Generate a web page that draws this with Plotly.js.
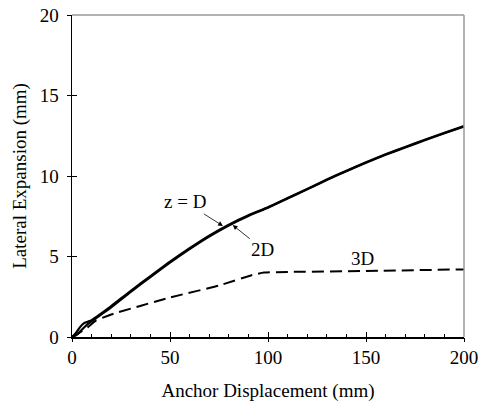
<!DOCTYPE html>
<html>
<head>
<meta charset="utf-8">
<script src="https://cdn.plot.ly/plotly-3.0.1.min.js"></script>
<style>
  html, body { margin: 0; padding: 0; background: #fff; }
  #chart { width: 480px; height: 405px; }
</style>
</head>
<body>
<div id="chart"></div>
<script>
// Lateral expansion vs anchor displacement at three depths
const dispZD = [0, 2, 4, 6, 8, 10, 13, 20, 30, 40, 50, 60, 70, 80, 90, 100, 110, 120, 130, 140, 150, 160, 170, 180, 190, 200];
const expZD  = [0, 0.25, 0.6, 0.85, 0.95, 1.05, 1.3, 1.92, 2.87, 3.78, 4.68, 5.52, 6.3, 6.98, 7.56, 8.06, 8.63, 9.2, 9.78, 10.33, 10.86, 11.35, 11.8, 12.25, 12.68, 13.1];

const disp2D = [0, 2, 5, 8, 12, 20, 30, 40, 50, 60, 70, 80, 90, 100, 110, 120, 130, 140, 150, 160, 170, 180, 190, 200];
const exp2D  = [0, 0.1, 0.45, 0.8, 1.15, 1.84, 2.8, 3.72, 4.62, 5.46, 6.24, 6.93, 7.52, 8.03, 8.6, 9.17, 9.75, 10.3, 10.83, 11.32, 11.77, 12.22, 12.65, 13.07];

const disp3D = [0, 3, 8, 12, 20, 50, 75, 92, 98, 110, 150, 200];
const exp3D  = [0, 0.2, 0.6, 1.0, 1.4, 2.45, 3.2, 3.85, 4.0, 4.04, 4.1, 4.2];

const xTicks = [0, 50, 100, 150, 200];
const yTicks = [0, 5, 10, 15, 20];

const serif = 'Liberation Serif, Times New Roman, serif';

const traces = [
  { x: dispZD, y: expZD, mode: 'lines', line: { color: '#000', width: 2.2, shape: 'spline', smoothing: 0.6 }, name: 'z = D', xaxis: 'x', yaxis: 'y' },
  { x: disp2D, y: exp2D, mode: 'lines', line: { color: '#000', width: 2.2, shape: 'spline', smoothing: 0.6 }, name: '2D', xaxis: 'x', yaxis: 'y' },
  { x: disp3D, y: exp3D, mode: 'lines', line: { color: '#000', width: 2, dash: '12px,6px', shape: 'spline', smoothing: 0.5 }, name: '3D', xaxis: 'x', yaxis: 'y' }
];

const layout = {
  width: 480,
  height: 405,
  margin: { l: 72, r: 16, t: 15, b: 68 },
  paper_bgcolor: '#fff',
  plot_bgcolor: '#fff',
  showlegend: false,
  font: { family: serif, size: 19, color: '#000' },
  xaxis: {
    range: [0, 200],
    tickvals: xTicks,
    ticktext: xTicks.map(String),
    ticks: 'inside',
    ticklen: 5,
    tickcolor: '#000',
    minor: { dtick: 10, ticks: 'inside', ticklen: 3, tickcolor: '#000' },
    showline: true,
    linecolor: '#000',
    linewidth: 1.5,
    showgrid: false,
    zeroline: false,
    ticklabelstandoff: 3,
    tickfont: { family: serif, size: 19 },
    title: { text: 'Anchor Displacement (mm)', font: { family: serif, size: 19 }, standoff: 16 }
  },
  xaxis2: {
    overlaying: 'x',
    matches: 'x',
    range: [0, 200],
    tickvals: xTicks,
    ticks: 'outside',
    ticklen: 4,
    tickcolor: '#000',
    showticklabels: false,
    showline: false,
    showgrid: false,
    zeroline: false
  },
  yaxis: {
    range: [0, 20],
    tickvals: yTicks,
    ticktext: yTicks.map(String),
    ticks: 'outside',
    ticklen: 4,
    tickcolor: '#000',
    showline: true,
    linecolor: '#000',
    linewidth: 1.5,
    showgrid: false,
    zeroline: false,
    ticklabelstandoff: 4,
    tickfont: { family: serif, size: 19 },
    title: { text: 'Lateral Expansion (mm)', font: { family: serif, size: 19 }, standoff: 8 }
  },
  yaxis2: {
    overlaying: 'y',
    matches: 'y',
    range: [0, 20],
    tickvals: yTicks,
    ticks: 'inside',
    ticklen: 5,
    tickcolor: '#000',
    showticklabels: false,
    showline: false,
    showgrid: false,
    zeroline: false
  },
  shapes: [
    { type: 'line', xref: 'paper', yref: 'paper', x0: 0, x1: 1, y0: 1, y1: 1, line: { color: '#999', width: 1.5 } },
    { type: 'line', xref: 'paper', yref: 'paper', x0: 1, x1: 1, y0: 0, y1: 1, line: { color: '#999', width: 1.5 } }
  ],
  annotations: [
    { x: 77, y: 6.9, xref: 'x', yref: 'y', text: 'z = D', showarrow: true, arrowhead: 2, arrowsize: 1.2, arrowwidth: 0.8, arrowcolor: '#000', ax: -38, ay: -24, font: { family: serif, size: 19 } },
    { x: 82, y: 6.95, xref: 'x', yref: 'y', text: '2D', showarrow: true, arrowhead: 2, arrowsize: 1.2, arrowwidth: 0.8, arrowcolor: '#000', ax: 30, ay: 24, font: { family: serif, size: 19 } },
    { x: 148, y: 4.85, xref: 'x', yref: 'y', text: '3D', showarrow: false, font: { family: serif, size: 19 } }
  ]
};

// invisible trace that activates the secondary tick axes
traces.push({ x: [0], y: [0], xaxis: 'x2', yaxis: 'y2', mode: 'markers', marker: { opacity: 0 }, hoverinfo: 'skip' });

Plotly.newPlot('chart', traces, layout, { staticPlot: true, displayModeBar: false });
</script>
</body>
</html>
